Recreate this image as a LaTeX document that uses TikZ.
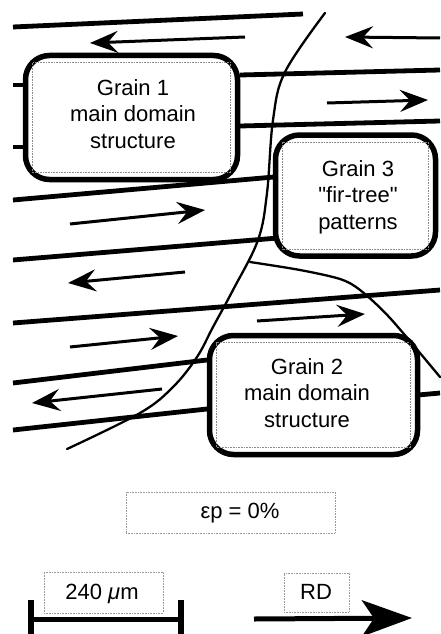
\documentclass[tikz,border=0pt]{standalone}
\usepackage{fontspec}
\setmainfont{Liberation Sans}[Ligatures=TeXOff]
\usetikzlibrary{arrows.meta,shapes.misc}
\begin{document}
\begin{tikzpicture}[x=1pt,y=-1pt,
  grainbox/.style={draw=black,line width=5.5pt,rounded corners=24pt,fill=white,inner sep=0pt},
  innerline/.style={chamfered rectangle,chamfered rectangle xsep=14pt,chamfered rectangle ysep=14pt,
    draw=black!45,densely dotted,line width=0.6pt,inner sep=0pt},
  graintext/.style={align=center,font=\fontsize{22}{26.5}\selectfont},
  tagbox/.style={draw=black!40,densely dotted,line width=0.6pt,inner sep=0pt},
  tagtext/.style={font=\fontsize{22}{26}\selectfont},
  wallline/.style={line width=4.8pt,line cap=butt},
  flowarrow/.style={line width=3pt,-{Stealth[length=28pt,width=22pt,inset=10pt]}},
  gbline/.style={line width=2.3pt,line cap=round}]
\useasboundingbox (0,0) rectangle (440,634);

% grains
\node[grainbox,minimum width=212pt,minimum height=124pt] (g1) at (131.5,117.5) {};
\node[innerline,minimum width=198pt,minimum height=110pt] (g1i) at (131.5,117.5) {};
\node[graintext] (g1t) at (133,114) {Grain 1\\main domain\\structure};

\node[grainbox,minimum width=160pt,minimum height=121pt] (g3) at (355.5,195.5) {};
\node[innerline,minimum width=146pt,minimum height=107pt] (g3i) at (355.5,195.5) {};
\node[graintext] (g3t) at (358,197) {Grain 3\\"fir-tree"\\patterns};

\node[grainbox,minimum width=208pt,minimum height=119pt] (g2) at (313.5,395) {};
\node[innerline,minimum width=194pt,minimum height=105pt] (g2i) at (313.5,395) {};
\node[graintext] (g2t) at (307,393) {Grain 2\\main domain\\structure};

% domain walls (thick lines)
\coordinate (a1) at (13,27);   \coordinate (b1) at (303,14);
\coordinate (a2) at (240,75);  \coordinate (b2) at (440,70);
\coordinate (a3) at (240,126); \coordinate (b3) at (440,121);
\coordinate (a4) at (13,200);  \coordinate (b4) at (274,177);
\coordinate (a5) at (13,260);  \coordinate (b5) at (278,238);
\coordinate (a6) at (13,323);  \coordinate (b6) at (440,290);
\coordinate (a7) at (13,383);  \coordinate (b7) at (207,360);
\coordinate (a8) at (13,430);  \coordinate (b8) at (207,409);
\coordinate (a9) at (418,395); \coordinate (b9) at (440,393);
\coordinate (s1a) at (13,85);  \coordinate (s1b) at (24,85);
\coordinate (s2a) at (13,147); \coordinate (s2b) at (24,147);
\foreach \p in {1,...,9}{\draw[wallline] (a\p) -- (b\p);}
\draw[wallline] (s1a) -- (s1b);
\draw[wallline] (s2a) -- (s2b);

% magnetisation arrows
\coordinate (f1a) at (245,37);  \coordinate (f1b) at (90,43);
\coordinate (f2a) at (440,38);  \coordinate (f2b) at (345,37);
\coordinate (f3a) at (327,103); \coordinate (f3b) at (428,100);
\coordinate (f4a) at (70,224);  \coordinate (f4b) at (205,210);
\coordinate (f5a) at (185,272); \coordinate (f5b) at (68,283);
\coordinate (f6a) at (257,321); \coordinate (f6b) at (365,314);
\coordinate (f7a) at (70,347);  \coordinate (f7b) at (178,336);
\coordinate (f8a) at (162,389); \coordinate (f8b) at (32,403);
\foreach \p in {1,...,8}{\draw[flowarrow] (f\p a) -- (f\p b);}

% grain boundaries
\draw[gbline] plot[smooth,tension=0.6] coordinates {(325,13) (285,72) (273,120) (267,193) (258,240) (233,290) (213,327) (197,357) (173,387) (140,413) (67,449)};
\draw[gbline] plot[smooth,tension=0.5] coordinates {(250,262) (300,270) (340,279) (360,290) (390,318) (440,377)};

% labels
\node[tagbox,minimum width=209pt,minimum height=41pt] (eps) at (230.5,512.5) {};
\node[tagtext] (epst) at (240,513) {εp = 0\%};
\node[tagbox,minimum width=119pt,minimum height=41pt] (scl) at (103.5,592.5) {};
\node[tagtext] (sclt) at (102,594) {240 {\itshape μ}m};
\node[tagbox,minimum width=65pt,minimum height=39pt] (rd) at (316.5,592.5) {};
\node[tagtext] (rdt) at (316,592) {RD};

% scale bar
\coordinate (t1a) at (31,600); \coordinate (t1b) at (31,634);
\coordinate (t2a) at (181,600); \coordinate (t2b) at (181,634);
\coordinate (bl) at (31,619); \coordinate (br) at (181,619);
\draw[line width=6pt] (t1a) -- (t1b);
\draw[line width=6pt] (t2a) -- (t2b);
\draw[line width=5pt] (bl) -- (br);

% RD arrow
\coordinate (rda) at (254,619); \coordinate (rdb) at (412,618);
\draw[line width=5pt,-{Stealth[length=50pt,width=36pt,inset=12pt]}] (rda) -- (rdb);
\end{tikzpicture}
\end{document}
